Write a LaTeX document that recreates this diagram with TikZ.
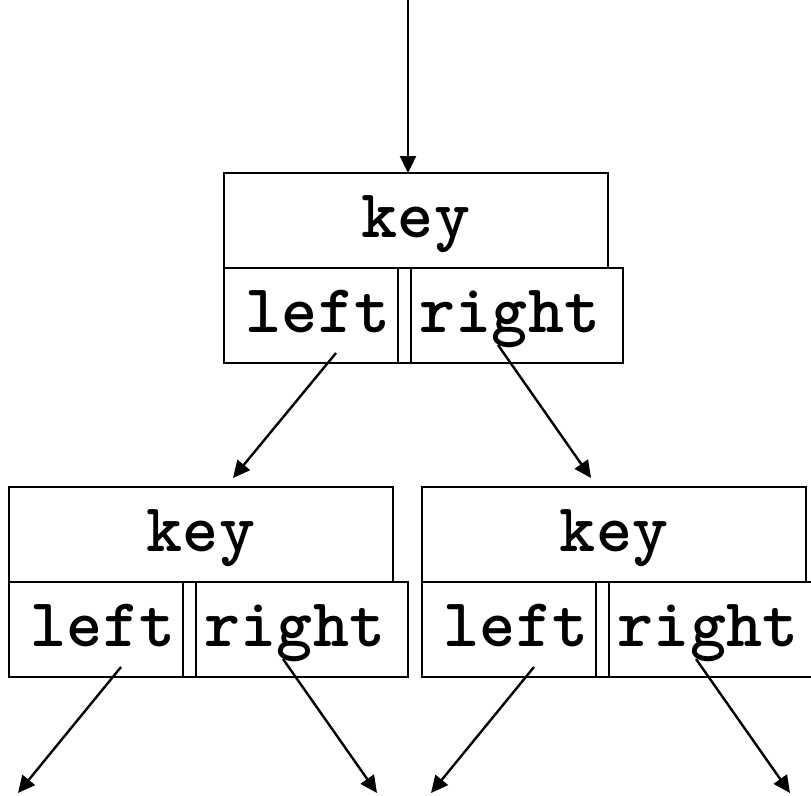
\documentclass[tikz,border=0pt]{standalone}
\usepackage{fontspec}
\usetikzlibrary{arrows.meta,calc}
\newcommand\bstnode[3]{%
  \node[box,minimum width=384pt] (#1K) at ({#2},{#3}) {};
  \node[box,minimum width=174pt] (#1L) at ({#2},{#3+95}) {};
  \node[box,minimum width=13pt]  (#1M) at ({#2+174},{#3+95}) {};
  \node[box,minimum width=212pt] (#1R) at ({#2+187},{#3+95}) {};
  \node[lbl] (#1kt) at ({#2+192},{#3+64}) {key};
  \node[lbl] (#1lt) at ({#2+94},{#3+159}) {left};
  \node[lbl] (#1rt) at ({#2+286},{#3+159}) {right};
  \coordinate (#1s1) at ({#2+112},{#3+180});
  \coordinate (#1s2) at ({#2+274},{#3+172});
}
\begin{document}
\begin{tikzpicture}[x=1pt,y=-1pt,
  box/.style={draw,line width=2.2pt,rectangle,inner sep=0pt,outer sep=0pt,anchor=north west,minimum height=95pt},
  lbl/.style={font=\ttfamily\bfseries\fontsize{68.6}{68.6}\selectfont,anchor=base,inner sep=0pt},
  arr/.style={line width=2.4pt,-{Triangle[length=17pt,width=16pt]}}]
\useasboundingbox (0,0) rectangle (811,795);
\bstnode{t}{224}{173}
\bstnode{a}{9}{487}
\bstnode{b}{422}{487}
\coordinate (in) at (408,0);
\coordinate (e1) at (233,478);
\coordinate (e2) at (591,478);
\coordinate (e3) at (18,793);
\coordinate (e4) at (377,793);
\coordinate (e5) at (431,793);
\coordinate (e6) at (790,793);
\draw[arr] (in) -- (in |- tK.north);
\draw[arr] (ts1) -- (e1);
\draw[arr] (ts2) -- (e2);
\draw[arr] (as1) -- (e3);
\draw[arr] (as2) -- (e4);
\draw[arr] (bs1) -- (e5);
\draw[arr] (bs2) -- (e6);
\end{tikzpicture}
\end{document}
